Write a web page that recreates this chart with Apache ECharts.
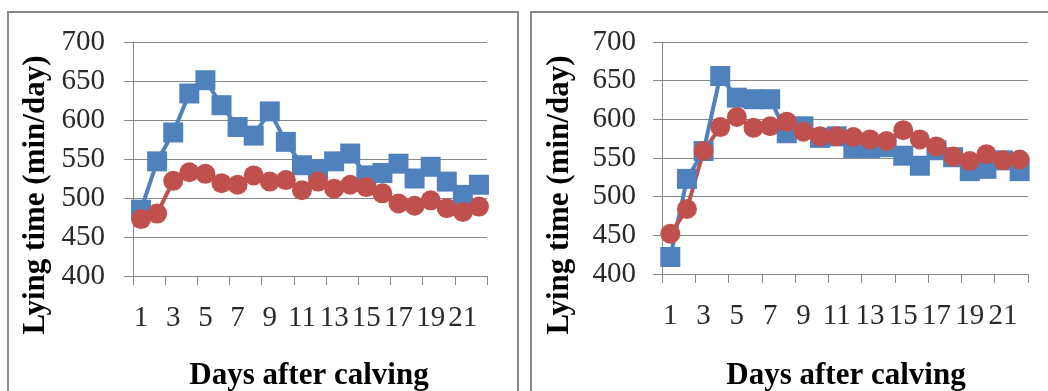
<!DOCTYPE html>
<html>
<head>
<meta charset="utf-8">
<script src="https://cdn.jsdelivr.net/npm/echarts@6/dist/echarts.min.js"></script>
<style>
  html, body { margin: 0; padding: 0; background: #fff; }
  #chart { width: 1048px; height: 391px; }
</style>
</head>
<body>
<div id="chart"></div>
<script>
// Days after calving (x categories)
const days = Array.from({ length: 22 }, (_, i) => String(i + 1));
const yTicks = { min: 400, max: 700, step: 50 };

// Lying time (min/day), left panel
const leftBlue = [485, 547, 584, 634, 651, 619, 591, 580, 611, 572, 542, 537, 547, 557, 529, 532, 544, 525, 540, 521, 504, 517];
const leftRed  = [473, 480, 522, 533, 531, 519, 517, 529, 521, 523, 510, 521, 512, 517, 514, 506, 493, 490, 497, 487, 482, 489];

// Lying time (min/day), right panel
const rightBlue = [422, 523, 559, 656, 628, 626, 626, 582, 591, 576, 578, 563, 563, 564, 553, 540, 560, 551, 533, 536, 547, 533];
const rightRed  = [452, 484, 559, 590, 603, 589, 591, 597, 584, 578, 578, 577, 574, 572, 586, 574, 565, 552, 546, 555, 547, 548];

const yTitle = 'Lying time (min/day)';
const xTitle = 'Days after calving';

const BLUE = '#4F81BD';
const RED = '#C0504D';
const GRID_GRAY = '#878787';
const TEXT = '#2a2a2a';
const SERIF = '"Liberation Serif", "Times New Roman", serif';

const grids = [
  { left: 133, top: 42, width: 354, height: 234 },
  { left: 662, top: 42, width: 366, height: 232 }
];

function xAxis(idx) {
  return {
    type: 'category', gridIndex: idx, data: days, boundaryGap: true,
    axisLine: { lineStyle: { color: GRID_GRAY, width: 1 } },
    axisTick: { show: true, length: 9, lineStyle: { color: GRID_GRAY } },
    axisLabel: { interval: 1, margin: 28, color: TEXT, fontFamily: SERIF, fontSize: 29 },
    splitLine: { show: false }
  };
}
function yAxis(idx, margin) {
  return {
    type: 'value', gridIndex: idx, min: yTicks.min, max: yTicks.max, interval: yTicks.step,
    axisLine: { show: true, lineStyle: { color: GRID_GRAY, width: 1 } },
    axisTick: { show: true, length: 9, lineStyle: { color: GRID_GRAY } },
    axisLabel: { margin: margin, color: TEXT, fontFamily: SERIF, fontSize: 29 },
    splitLine: { show: true, lineStyle: { color: GRID_GRAY, width: 1 } }
  };
}
function line(idx, data, color, symbol, size) {
  return {
    type: 'line', xAxisIndex: idx, yAxisIndex: idx, data: data,
    symbol: symbol, symbolSize: size, showAllSymbol: true,
    lineStyle: { color: color, width: 4 },
    itemStyle: { color: color, borderWidth: 0 },
    animation: false
  };
}

const chart = echarts.init(document.getElementById('chart'), null, { renderer: 'canvas' });
chart.setOption({
  backgroundColor: '#fff',
  animation: false,
  grid: grids,
  xAxis: [xAxis(0), xAxis(1)],
  yAxis: [yAxis(0, 28), yAxis(1, 26)],
  series: [
    line(0, leftBlue, BLUE, 'rect', 20),
    line(0, leftRed, RED, 'circle', 20),
    line(1, rightBlue, BLUE, 'rect', 20),
    line(1, rightRed, RED, 'circle', 20)
  ],
  graphic: [
    { type: 'rect', shape: { x: 8, y: 12, width: 510, height: 420 }, style: { fill: 'none', stroke: '#8a8a8a', lineWidth: 2 }, silent: true },
    { type: 'rect', shape: { x: 531, y: 12, width: 540, height: 420 }, style: { fill: 'none', stroke: '#8a8a8a', lineWidth: 2 }, silent: true },
    { type: 'text', x: 36, y: 195, rotation: Math.PI / 2,
      style: { text: yTitle, font: 'bold 31px ' + SERIF, fill: '#000', textAlign: 'center', textVerticalAlign: 'middle' } },
    { type: 'text', x: 560, y: 195, rotation: Math.PI / 2,
      style: { text: yTitle, font: 'bold 31px ' + SERIF, fill: '#000', textAlign: 'center', textVerticalAlign: 'middle' } },
    { type: 'text', x: 309, y: 376,
      style: { text: xTitle, font: 'bold 31px ' + SERIF, fill: '#000', textAlign: 'center', textVerticalAlign: 'middle' } },
    { type: 'text', x: 846, y: 376,
      style: { text: xTitle, font: 'bold 31px ' + SERIF, fill: '#000', textAlign: 'center', textVerticalAlign: 'middle' } }
  ]
});
</script>
</body>
</html>
